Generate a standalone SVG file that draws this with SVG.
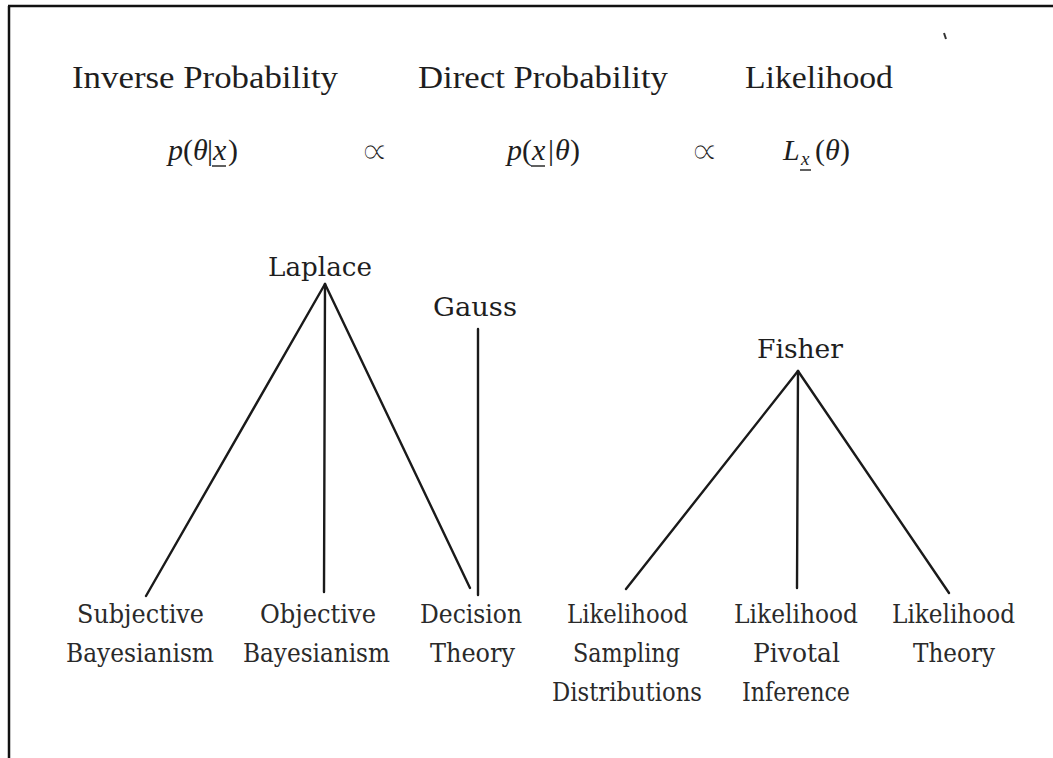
<svg xmlns="http://www.w3.org/2000/svg" width="1053" height="758" viewBox="0 0 1053 758">
<style>
.hdr{font-family:"Liberation Serif","DejaVu Serif",serif;font-size:31px;fill:#1e1e1e}
.math{font-family:"Liberation Serif","DejaVu Serif",serif;font-size:30px;fill:#1e1e1e}
.prop{font-family:"DejaVu Sans","Liberation Serif",sans-serif;font-weight:200;font-size:40px;fill:#1e1e1e;stroke:#ffffff;stroke-width:1.2}
.it{font-style:italic}
.sub{font-family:"Liberation Serif",serif;font-style:italic;font-size:19px;fill:#1e1e1e}
.name{font-family:"DejaVu Serif","Liberation Serif",serif;font-size:26px;fill:#1e1e1e}
.lbl{font-family:"DejaVu Serif","Liberation Serif",serif;font-size:26px;fill:#2a2a2a}
.edge{stroke:#1a1a1a;stroke-width:2.4;fill:none;stroke-linecap:round}
.ul{stroke:#1e1e1e;stroke-width:1.4}
</style>
<rect width="1053" height="758" fill="#ffffff"/>
<g id="frame">
<line x1="9" y1="6" x2="9" y2="758" stroke="#111" stroke-width="2.5"/>
<line x1="8" y1="6" x2="1053" y2="6" stroke="#111" stroke-width="2.5"/>
<line x1="944" y1="33" x2="946" y2="39" stroke="#333" stroke-width="2"/>
</g>
<g id="header">
<text class="hdr" x="72" y="88" textLength="266" lengthAdjust="spacingAndGlyphs">Inverse Probability</text>
<text class="hdr" x="418" y="88" textLength="250" lengthAdjust="spacingAndGlyphs">Direct Probability</text>
<text class="hdr" x="745" y="88" textLength="148" lengthAdjust="spacingAndGlyphs">Likelihood</text>
</g>
<g id="formula">
<text class="math"><tspan class="it" x="168" y="160">p</tspan><tspan x="183" y="160">(</tspan><tspan class="it" x="193" y="160">θ</tspan><tspan x="207" y="160">|</tspan><tspan class="it" x="213" y="160">x</tspan><tspan x="228" y="160">)</tspan></text>
<line class="ul" x1="212" y1="166" x2="226" y2="166"/>
<text class="prop" x="360" y="164">∝</text>
<text class="math"><tspan class="it" x="507" y="160">p</tspan><tspan x="522" y="160">(</tspan><tspan class="it" x="532" y="160">x</tspan><tspan x="548" y="160">|</tspan><tspan class="it" x="555" y="160">θ</tspan><tspan x="570" y="160">)</tspan></text>
<line class="ul" x1="531" y1="166" x2="545" y2="166"/>
<text class="prop" x="690" y="164">∝</text>
<text class="math"><tspan class="it" x="783" y="160">L</tspan></text>
<text class="sub" x="801" y="165">x</text>
<line class="ul" x1="800" y1="170" x2="811" y2="170"/>
<text class="math"><tspan x="815" y="160">(</tspan><tspan class="it" x="825" y="160">θ</tspan><tspan x="840" y="160">)</tspan></text>
</g>
<g id="connectors">
<line class="edge" x1="325" y1="284" x2="146" y2="596"/>
<line class="edge" x1="325" y1="284" x2="324" y2="592"/>
<line class="edge" x1="325" y1="284" x2="470" y2="588"/>
<line class="edge" x1="478" y1="329" x2="478" y2="595"/>
<line class="edge" x1="798" y1="371" x2="626" y2="589"/>
<line class="edge" x1="798" y1="371" x2="797" y2="588"/>
<line class="edge" x1="798" y1="371" x2="949" y2="593"/>
</g>
<g id="laplace"><text class="name" x="268" y="276" textLength="104" lengthAdjust="spacingAndGlyphs">Laplace</text></g>
<g id="gauss"><text class="name" x="433" y="316" textLength="84" lengthAdjust="spacingAndGlyphs">Gauss</text></g>
<g id="fisher"><text class="name" x="757" y="358" textLength="86" lengthAdjust="spacingAndGlyphs">Fisher</text></g>
<g id="subjective">
<text class="lbl" x="77" y="623" textLength="127" lengthAdjust="spacingAndGlyphs">Subjective</text>
<text class="lbl" x="66" y="662" textLength="148" lengthAdjust="spacingAndGlyphs">Bayesianism</text>
</g>
<g id="objective">
<text class="lbl" x="260" y="623" textLength="116" lengthAdjust="spacingAndGlyphs">Objective</text>
<text class="lbl" x="243" y="662" textLength="147" lengthAdjust="spacingAndGlyphs">Bayesianism</text>
</g>
<g id="decision">
<text class="lbl" x="420" y="623" textLength="102" lengthAdjust="spacingAndGlyphs">Decision</text>
<text class="lbl" x="430" y="662" textLength="85" lengthAdjust="spacingAndGlyphs">Theory</text>
</g>
<g id="sampling">
<text class="lbl" x="567" y="623" textLength="121" lengthAdjust="spacingAndGlyphs">Likelihood</text>
<text class="lbl" x="573" y="662" textLength="107" lengthAdjust="spacingAndGlyphs">Sampling</text>
<text class="lbl" x="552" y="701" textLength="150" lengthAdjust="spacingAndGlyphs">Distributions</text>
</g>
<g id="pivotal">
<text class="lbl" x="734" y="623" textLength="124" lengthAdjust="spacingAndGlyphs">Likelihood</text>
<text class="lbl" x="753" y="662" textLength="87" lengthAdjust="spacingAndGlyphs">Pivotal</text>
<text class="lbl" x="742" y="701" textLength="108" lengthAdjust="spacingAndGlyphs">Inference</text>
</g>
<g id="theory">
<text class="lbl" x="892" y="623" textLength="123" lengthAdjust="spacingAndGlyphs">Likelihood</text>
<text class="lbl" x="913" y="662" textLength="82" lengthAdjust="spacingAndGlyphs">Theory</text>
</g>
</svg>
